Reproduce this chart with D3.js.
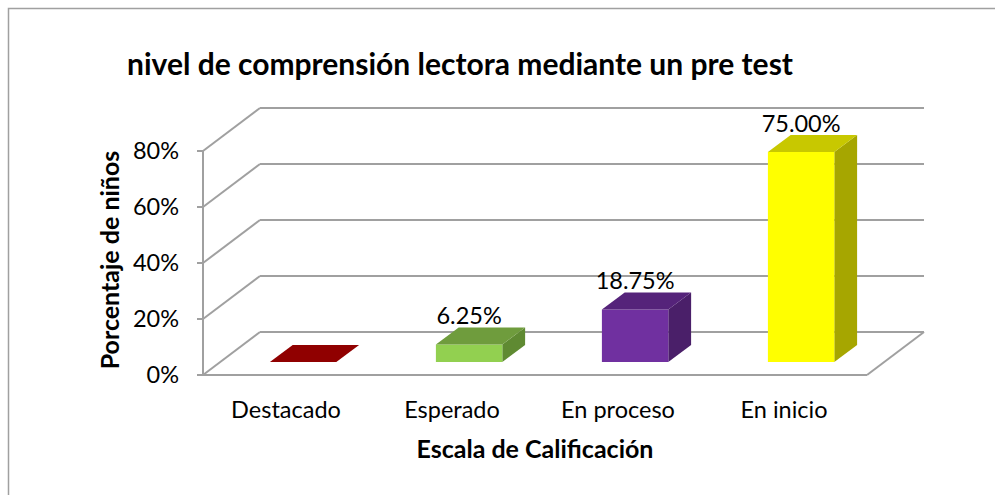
<!DOCTYPE html>
<html lang="es">
<head>
<meta charset="UTF-8">
<title>nivel de comprensión lectora</title>
<script src="https://d3js.org/d3.v7.min.js"></script>
<style>
    body { margin: 0; background: #fff; }
    svg { display: block; }
    text { font-family: "Lato", "Open Sans", sans-serif; fill: #000; }
</style>
</head>
<body>
<svg id="chart" width="995" height="495"></svg>
<script>
// data
const categories = ["Destacado", "Esperado", "En proceso", "En inicio"]
const values = [0, 0.0625, 0.1875, 0.75]
const valueLabels = ["", "6.25%", "18.75%", "75.00%"]
const yTicks = [0, 0.2, 0.4, 0.6, 0.8]

const frontColors = ["#900000", "#92d050", "#7030a0", "#ffff00"]
const topColors = ["#900000", "#6f9c3d", "#55237a", "#c8c800"]
const sideColors = ["#7a0000", "#5f8a32", "#4a1f69", "#a6a600"]

const svg = d3.select("#chart")

// outer frame
svg.append("rect")
    .attr("x", 8.5).attr("y", 8.5)
    .attr("width", 1000).attr("height", 500)
    .attr("fill", "none").attr("stroke", "#a0a0a0").attr("stroke-width", 1.5)

// 3d box: front plane + depth offset
const depthX = 57, depthY = -43
const x = d3.scaleBand().domain(categories).range([203, 867])
const y = d3.scaleLinear().domain([0, 0.8]).range([375, 151])
const proj = (px, py, d) => [px + depthX * d, py + depthY * d]

const grid = svg.append("g").attr("stroke", "#a0a0a0").attr("stroke-width", 2).attr("fill", "none")

// back wall gridlines + left wall diagonals
yTicks.forEach(t => {
    let a = proj(x.range()[0], y(t), 1), b = proj(x.range()[1], y(t), 1)
    grid.append("line").attr("x1", a[0]).attr("y1", a[1]).attr("x2", b[0]).attr("y2", b[1])
    grid.append("line").attr("x1", x.range()[0]).attr("y1", y(t)).attr("x2", a[0]).attr("y2", a[1])
    grid.append("line").attr("x1", x.range()[0] - 6).attr("y1", y(t)).attr("x2", x.range()[0]).attr("y2", y(t))
})
// front axis and floor edges
grid.append("line").attr("x1", x.range()[0]).attr("y1", y(0)).attr("x2", x.range()[0]).attr("y2", y(0.8))
grid.append("line").attr("x1", x.range()[0]).attr("y1", y(0)).attr("x2", x.range()[1]).attr("y2", y(0))
let fr = proj(x.range()[1], y(0), 1)
grid.append("line").attr("x1", x.range()[1]).attr("y1", y(0)).attr("x2", fr[0]).attr("y2", fr[1])

// y tick labels
svg.append("g").selectAll("text")
    .data(yTicks)
    .enter()
    .append("text")
    .attr("x", 179)
    .attr("y", d => y(d))
    .attr("dy", "0.36em")
    .attr("text-anchor", "end")
    .style("font-size", "23.5px")
    .text(d => d3.format(".0%")(d))

// bars
const d0 = 0.3, d1 = 0.7
const bw = x.bandwidth() * 0.4
const bars = svg.append("g").selectAll("g")
    .data(categories)
    .enter()
    .append("g")

bars.each(function (c, i) {
    let g = d3.select(this)
    let left = x(c) + x.bandwidth() / 2 - bw / 2
    let right = left + bw
    let top = y(values[i]), base = y(0)
    let fl = proj(left, top, d0), frt = proj(right, top, d0)
    let bl = proj(left, top, d1), br = proj(right, top, d1)
    let fb = proj(right, base, d0), bb = proj(right, base, d1)
    let fbl = proj(left, base, d0)
    if (values[i] > 0) {
        // side
        g.append("polygon").attr("points", [frt, br, bb, fb].join(" ")).attr("fill", sideColors[i])
        // front
        g.append("polygon").attr("points", [fl, frt, fb, fbl].join(" ")).attr("fill", frontColors[i])
    }
    // top
    g.append("polygon").attr("points", [fl, frt, br, bl].join(" ")).attr("fill", topColors[i])
    if (valueLabels[i]) {
        g.append("text")
            .attr("x", (fl[0] + frt[0]) / 2)
            .attr("y", bl[1] - 3)
            .attr("text-anchor", "middle")
            .style("font-size", "23.5px")
            .text(valueLabels[i])
    }
})

// category labels
svg.append("g").selectAll("text")
    .data(categories)
    .enter()
    .append("text")
    .attr("x", d => x(d) + x.bandwidth() / 2)
    .attr("y", 418)
    .attr("text-anchor", "middle")
    .style("font-size", "23.5px")
    .text(d => d)

// titles
svg.append("text")
    .attr("x", 460).attr("y", 75)
    .attr("text-anchor", "middle")
    .style("font-size", "30px").style("font-weight", "bold")
    .text("nivel de comprensión lectora mediante un pre test")

svg.append("text")
    .attr("x", 535).attr("y", 458)
    .attr("text-anchor", "middle")
    .style("font-size", "25px").style("font-weight", "bold")
    .text("Escala de Calificación")

svg.append("text")
    .attr("transform", "translate(119,260) rotate(-90)")
    .attr("text-anchor", "middle")
    .style("font-size", "25px").style("font-weight", "bold")
    .text("Porcentaje de niños")
</script>
</body>
</html>
